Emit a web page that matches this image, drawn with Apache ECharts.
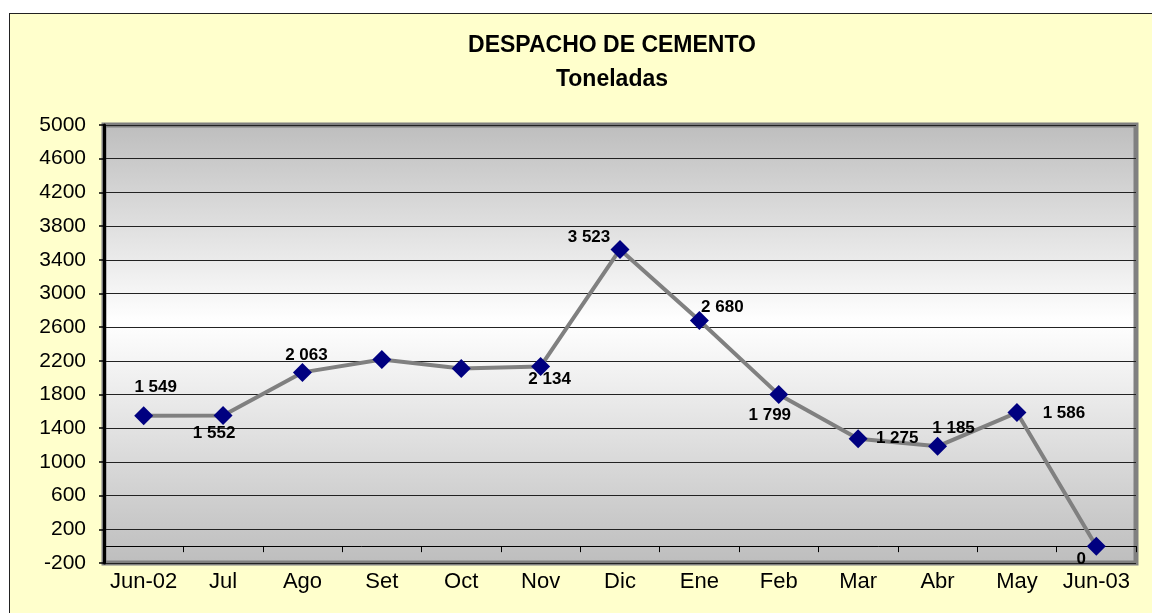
<!DOCTYPE html>
<html>
<head>
<meta charset="utf-8">
<script src="https://cdn.jsdelivr.net/npm/echarts@6/dist/echarts.min.js"></script>
<style>
  html, body { margin: 0; padding: 0; background: #ffffff; overflow: hidden; }
  #frame { position: absolute; left: 9px; top: 13px; width: 1200px; height: 700px; background: #ffffcc; border: 1px solid #222; }
  #chart { position: absolute; left: 0; top: 0; width: 1152px; height: 613px; }
</style>
</head>
<body>
<div id="frame"></div>
<div id="chart"></div>
<script>
// datos del grafico
const meses = ['Jun-02', 'Jul', 'Ago', 'Set', 'Oct', 'Nov', 'Dic', 'Ene', 'Feb', 'Mar', 'Abr', 'May', 'Jun-03'];
const toneladas = [1549, 1552, 2063, 2215, 2110, 2134, 3523, 2680, 1799, 1275, 1185, 1586, 0];
// Set y Oct no llevan etiqueta
const conEtiqueta = [true, true, true, false, false, true, true, true, true, true, true, true, true];
// desplazamiento de cada etiqueta respecto al punto
const desplazamientos = [[12, -28], [-9, 18], [4, -17], [0, 0], [0, 0], [9, 13], [-31, -12], [23, -13], [-9, 21], [39, 0], [16, -18], [47, 1], [-15, 13]];

function formatoMiles(v) {
    return String(v).replace(/\B(?=(\d{3})+(?!\d))/g, ' ');
}

let chartDom = document.getElementById('chart');
let myChart = echarts.init(chartDom);
let option;

let puntos = [];
for (let i = 0; i < toneladas.length; i++) {
    puntos.push({
        value: toneladas[i],
        label: {
            show: conEtiqueta[i],
            offset: desplazamientos[i]
        }
    });
}

option = {
    backgroundColor: 'transparent',
    animation: false,
    graphic: [
        {
            type: 'text', x: 612, y: 46,
            style: { text: 'DESPACHO DE CEMENTO', x: 0, y: 0, align: 'center', verticalAlign: 'middle',
                     font: 'bold 23px "Liberation Sans", Arial, sans-serif', fill: '#000' }
        },
        {
            type: 'text', x: 612, y: 80,
            style: { text: 'Toneladas', x: 0, y: 0, align: 'center', verticalAlign: 'middle',
                     font: 'bold 23px "Liberation Sans", Arial, sans-serif', fill: '#000' }
        }
    ],
    grid: {
        left: 104,
        right: 16,
        top: 125,
        bottom: 50,
        show: true,
        borderColor: '#808080',
        borderWidth: 5,
        backgroundColor: new echarts.graphic.LinearGradient(0, 0, 0, 1, [
            { offset: 0, color: '#bdbdbd' },
            { offset: 0.45, color: '#ffffff' },
            { offset: 1, color: '#bdbdbd' }
        ])
    },
    xAxis: {
        type: 'category',
        data: meses,
        boundaryGap: true,
        axisLine: { onZero: true, lineStyle: { color: '#000', width: 1 } },
        axisTick: { show: true, interval: 0, length: 6, lineStyle: { color: '#000', width: 1 } },
        axisLabel: {
            interval: 0,
            margin: 8,
            color: '#000',
            fontSize: 22,
            fontFamily: '"Liberation Sans", Arial, sans-serif'
        },
        splitLine: { show: false }
    },
    yAxis: {
        type: 'value',
        min: -200,
        max: 5000,
        interval: 400,
        axisLine: { show: true, lineStyle: { color: '#000', width: 3 } },
        axisTick: { show: true, length: 5, lineStyle: { color: '#000', width: 1.5 } },
        axisLabel: {
            margin: 18,
            color: '#000',
            fontSize: 21,
            fontFamily: '"Liberation Sans", Arial, sans-serif',
            formatter: function (v) { return String(v); }
        },
        splitLine: { show: true, lineStyle: { color: '#222', width: 1 } }
    },
    series: [
        {
            name: 'Despacho',
            type: 'line',
            data: puntos,
            symbol: 'diamond',
            symbolSize: 19,
            lineStyle: { color: '#808080', width: 4 },
            itemStyle: { color: '#000080', borderWidth: 0 },
            label: {
                show: true,
                position: 'inside',
                color: '#000',
                fontWeight: 'bold',
                fontSize: 17,
                fontFamily: '"Liberation Sans", Arial, sans-serif',
                formatter: function (p) { return formatoMiles(p.value); }
            }
        }
    ]
};

option && myChart.setOption(option);
</script>
</body>
</html>
